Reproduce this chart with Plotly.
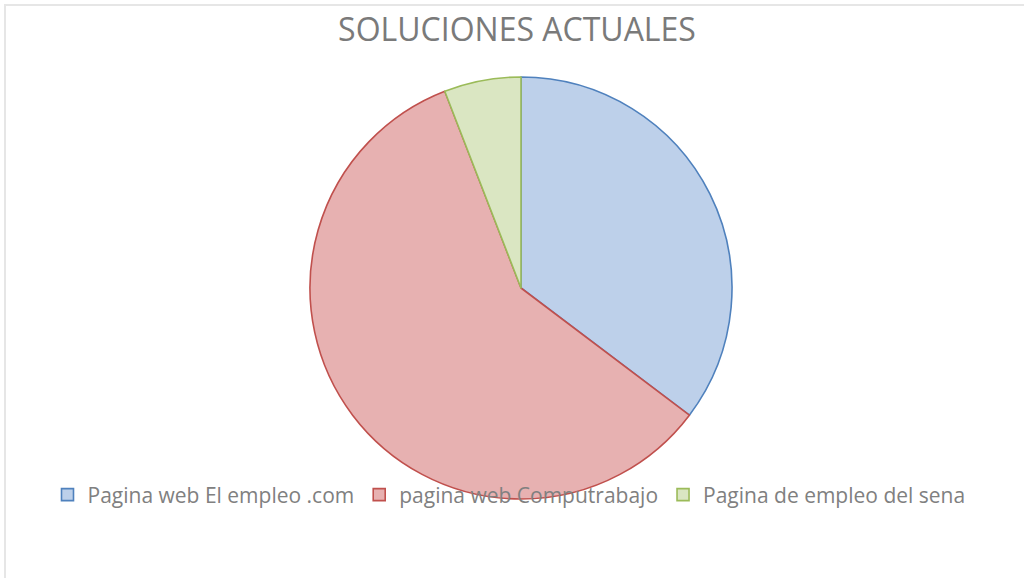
import plotly.graph_objects as go

labels = ["Pagina web El empleo .com", "pagina web Computrabajo", "Pagina de empleo del sena"]
values = [6, 10, 1]
fill_colors = ["#bdd0ea", "#e7b1b1", "#dae6c2"]
line_colors = ["#4f81bd", "#c0504d", "#9bbb59"]

W, H = 1024, 578
cx, cy, r = 521, 288, 211

fig = go.Figure(go.Pie(
    labels=labels,
    values=values,
    sort=False,
    direction="clockwise",
    rotation=0,
    textinfo="none",
    hoverinfo="label+value+percent",
    marker=dict(colors=fill_colors, line=dict(color=line_colors, width=1.6)),
    domain=dict(x=[(cx - r) / W, (cx + r) / W], y=[1 - (cy + r) / H, 1 - (cy - r) / H]),
))

fig.update_layout(
    width=W, height=H,
    margin=dict(l=0, r=0, t=0, b=0),
    paper_bgcolor="white",
    font=dict(family="Open Sans", color="#7f7f7f"),
    title=dict(text="SOLUCIONES ACTUALES", x=517 / W, xanchor="center", y=1 - 30 / H, yanchor="middle",
               font=dict(size=32, color="#7a7a7a", family="Open Sans")),
    showlegend=True,
    legend=dict(orientation="h", x=509 / W, xanchor="center", y=1 - 495 / H, yanchor="middle",
                font=dict(size=21, color="#808080", family="Open Sans"),
                bgcolor="rgba(0,0,0,0)", itemclick=False),
    shapes=[dict(type="rect", xref="paper", yref="paper", x0=5 / W, x1=1.02, y0=-0.02, y1=1 - 5 / H,
                 line=dict(color="#e6e6e6", width=2), layer="below")],
)

fig.write_html("out.html", config={"displayModeBar": False},
               post_script="document.body.style.margin='0';")
